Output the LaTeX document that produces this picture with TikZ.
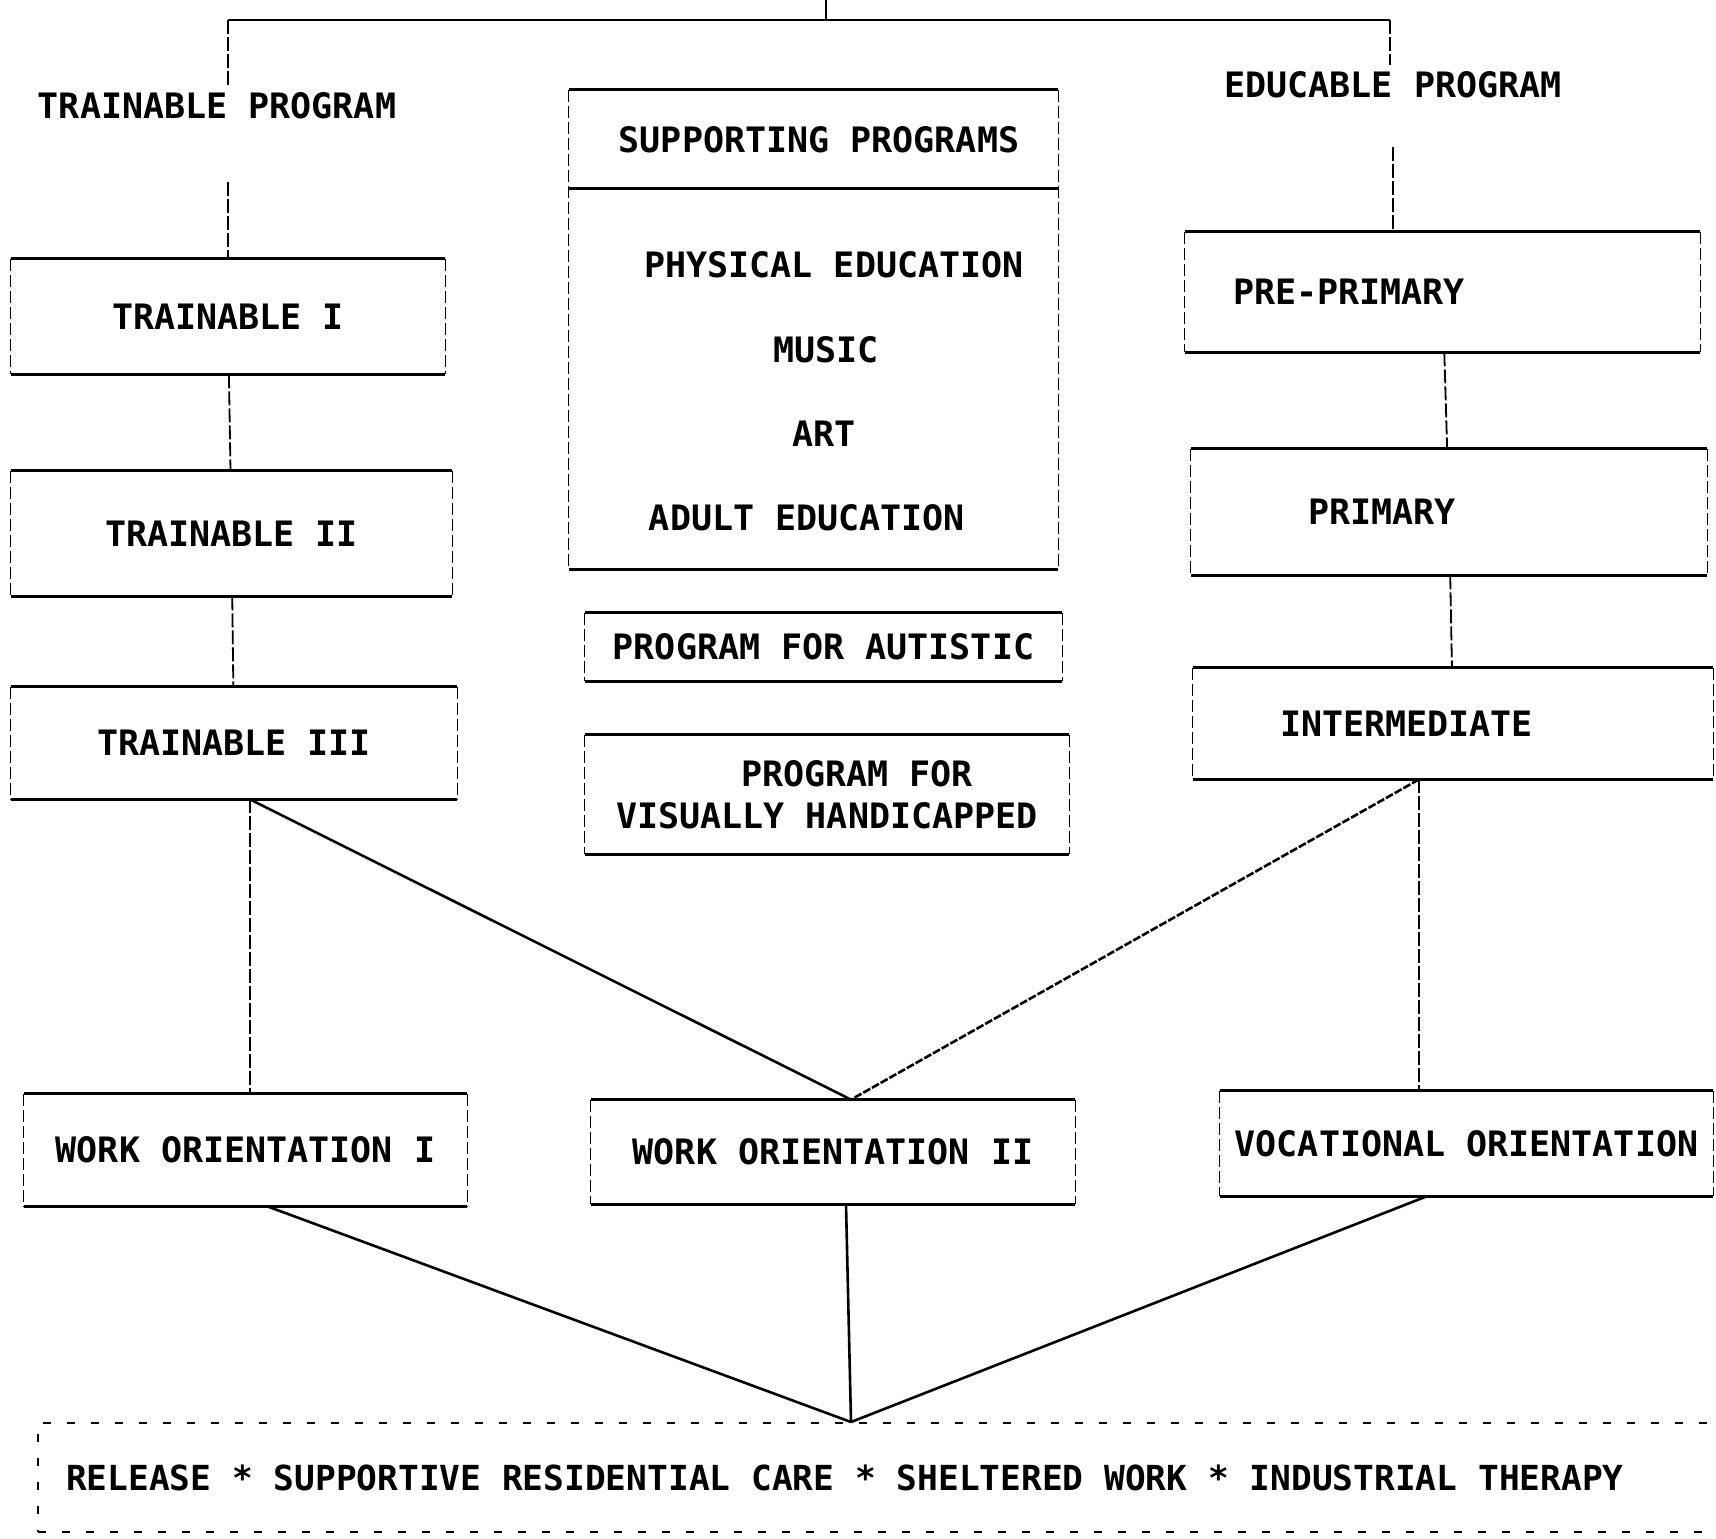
\documentclass[tikz,border=0pt]{standalone}
\usepackage{fontspec}
\setmonofont{DejaVu Sans Mono}
\usepackage{tikz}

\begin{document}
\begin{tikzpicture}[font=\fontsize{17.5}{21}\selectfont\ttfamily\bfseries, rim/.style={line width=1.5pt}, side/.style={line width=0.8pt, dash pattern=on 6pt off 2pt}, conn/.style={line width=0.9pt, dash pattern=on 7pt off 1.5pt}, link/.style={line width=1.3pt}, box/.style={inner sep=0pt, append after command={(\tikzlastnode.north west) edge[rim] (\tikzlastnode.north east) (\tikzlastnode.south west) edge[rim] (\tikzlastnode.south east) (\tikzlastnode.north west) edge[side] (\tikzlastnode.south west) (\tikzlastnode.north east) edge[side] (\tikzlastnode.south east)}}]
\useasboundingbox (0pt, 0pt) rectangle (858pt, -769pt);
\draw (108.5pt, -53.0pt)node(0){TRAINABLE PROGRAM};
\draw (696.5pt, -42.5pt)node(1){EDUCABLE PROGRAM};
\draw (114.0pt, -158.25pt)node[box, minimum width=217pt, minimum height=57.5pt](2){TRAINABLE I};
\draw (115.75pt, -266.75pt)node[box, minimum width=220.5pt, minimum height=62.5pt](3){TRAINABLE II};
\draw (117.0pt, -371.5pt)node[box, minimum width=223pt, minimum height=56pt](4){TRAINABLE III};
\draw (406.75pt, -164.75pt)node[box, minimum width=244.5pt, minimum height=239.5pt](5){};
\draw (409.5pt, -70.0pt)node(6){SUPPORTING PROGRAMS};
\draw (417.0pt, -132.5pt)node(7){PHYSICAL EDUCATION};
\draw (413.0pt, -175.0pt)node(8){MUSIC};
\draw (412.0pt, -217.0pt)node(9){ART};
\draw (403.5pt, -259.0pt)node(10){ADULT EDUCATION};
\draw (411.75pt, -323.5pt)node[box, minimum width=238.5pt, minimum height=34pt](11){PROGRAM FOR AUTISTIC};
\draw (413.5pt, -397.25pt)node[box, align=center, minimum width=242pt, minimum height=59.5pt](12){\hspace*{30pt}PROGRAM FOR\\VISUALLY HANDICAPPED};
\draw (721.25pt, -146.0pt)node[box, align=left, text width=209.5pt, minimum width=257.5pt, minimum height=60pt](13){PRE-PRIMARY};
\draw (724.5pt, -256.0pt)node[box, align=left, text width=141pt, minimum width=258pt, minimum height=63pt](14){PRIMARY};
\draw (726.5pt, -361.75pt)node[box, align=left, text width=173pt, minimum width=260pt, minimum height=55.5pt](15){INTERMEDIATE};
\draw (122.75pt, -575.0pt)node[box, minimum width=221.5pt, minimum height=56pt](16){WORK ORIENTATION I};
\draw (416.5pt, -576.0pt)node[box, minimum width=242pt, minimum height=52pt](17){WORK ORIENTATION II};
\draw (733.25pt, -571.75pt)node[box, minimum width=246.5pt, minimum height=52.5pt](18){VOCATIONAL ORIENTATION};
\draw (442.0pt, -738.75pt)node[inner sep=0pt, align=left, text width=818pt, minimum width=846pt, minimum height=54.5pt, draw, line width=1pt, dash pattern=on 4pt off 8pt, font=\fontsize{17.25}{21}\selectfont\ttfamily\bfseries](19){\spaceskip=0pt\relax RELEASE * SUPPORTIVE RESIDENTIAL CARE * SHELTERED WORK * INDUSTRIAL THERAPY};
\coordinate (c0) at (413pt, 0pt);
\coordinate (c1) at (114pt, -10pt);
\coordinate (c2) at (695pt, -10pt);
\coordinate (c3) at ([xshift=8pt]4.south);
\coordinate (c4) at ([xshift=9pt]17.north);
\coordinate (c5) at ([xshift=-17pt]15.south);
\coordinate (c6) at (19.north -| c4);
\coordinate (c7) at (0pt, -94pt);
\draw[rim] (5.west |- c7) -- (5.east |- c7);
\draw[link] (c0) -- (c0 |- c1);
\draw[link] (c1) -- (c2);
\draw[conn] (c1) -- (c1 |- 0.north);
\draw[conn] (c2) -- (c2 |- 1.north);
\draw[conn] ([yshift=-28pt]0.south -| 2.north) -- (2.north);
\draw[conn] ([yshift=-21pt]1.south) -- (1.south |- 13.north);
\path (2) edge[conn] (3);
\path (3) edge[conn] (4);
\path (13) edge[conn] (14);
\path (14) edge[conn] (15);
\draw[conn] (c3) -- (c3 |- 16.north);
\draw[link] (c3) -- (c4);
\draw[link, dash pattern=on 4pt off 1pt] (c5) -- (c4);
\draw[conn] (c5) -- (c5 |- 18.north);
\draw[link] ([xshift=11pt]16.south) -- (c6);
\draw[link] ([xshift=6.5pt]17.south) -- (c6);
\draw[link] ([xshift=-20pt]18.south) -- (c6);
\end{tikzpicture}
\end{document}
